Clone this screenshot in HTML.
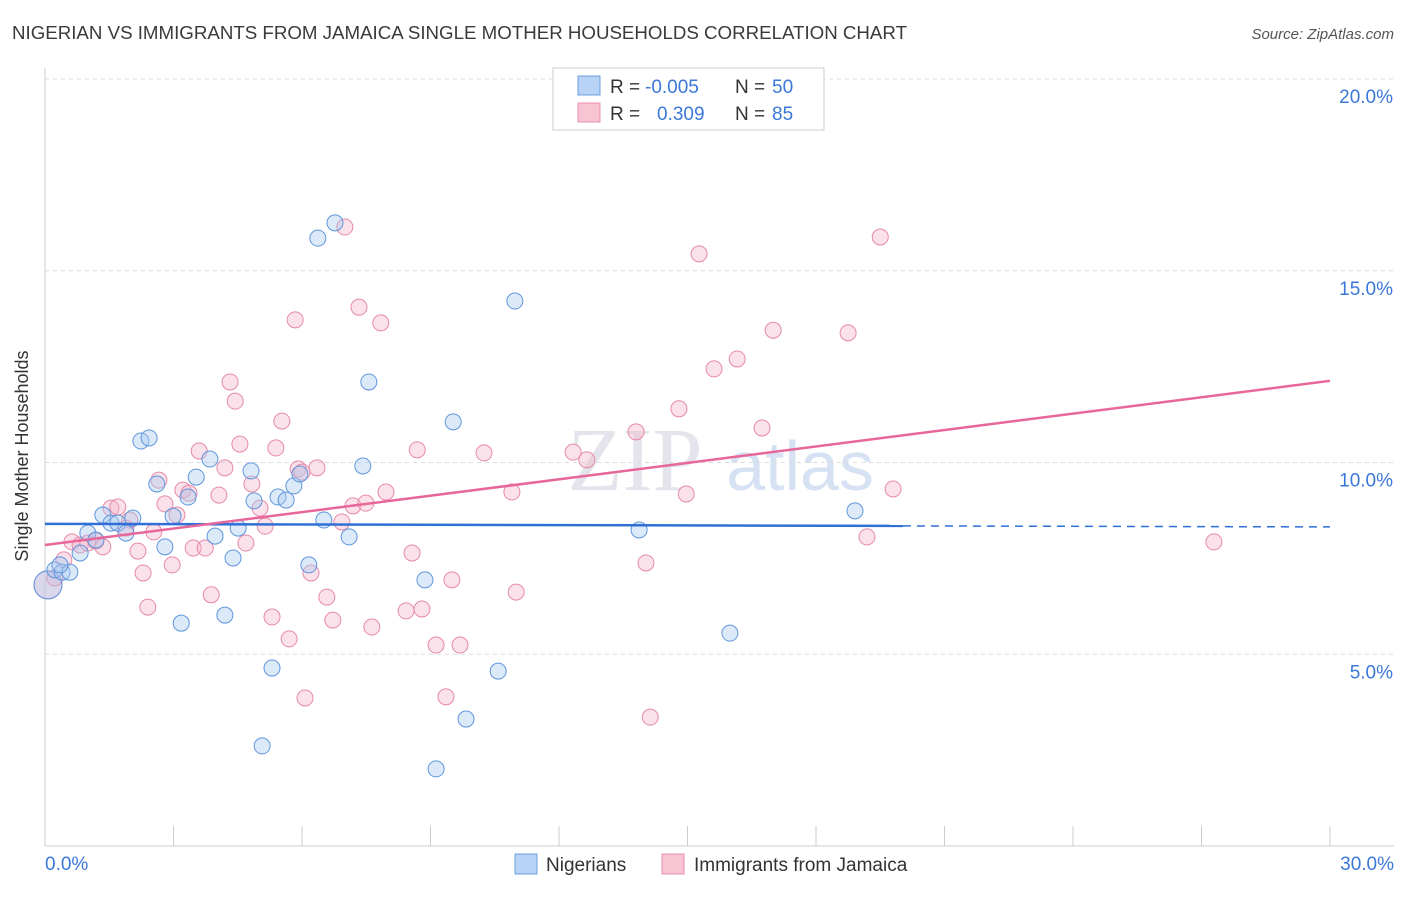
<!DOCTYPE html>
<html><head><meta charset="utf-8"><style>
body{margin:0;background:#fff;font-family:"Liberation Sans",sans-serif}
</style></head><body>
<svg width="1406" height="892" xmlns="http://www.w3.org/2000/svg">
<text x="12" y="39" font-size="18" textLength="895" lengthAdjust="spacingAndGlyphs" fill="#3a3a3a">NIGERIAN VS IMMIGRANTS FROM JAMAICA SINGLE MOTHER HOUSEHOLDS CORRELATION CHART</text>
<text x="1394" y="39" font-size="15" fill="#555" text-anchor="end" font-style="italic">Source: ZipAtlas.com</text>
<text x="28" y="456" font-size="18" fill="#333" text-anchor="middle" transform="rotate(-90 28 456)">Single Mother Households</text>
<text x="635" y="490" font-size="90" fill="#e4e4ec" font-family="Liberation Serif" text-anchor="middle">ZIP</text>
<text x="800" y="490" font-size="70" fill="#d6e2f3" text-anchor="middle">atlas</text>
<g id="grid"></g><g id="axes"></g><g id="pts"></g><g id="lines"></g>
<g>
<rect x="553" y="68" width="271" height="62" fill="#fff" stroke="#ccc"/>
<rect x="578" y="76" width="22" height="19" fill="#b8d3f5" stroke="#6a9fe0"/>
<rect x="578" y="103" width="22" height="19" fill="#f8c4d4" stroke="#e890aa"/>
<text y="93" font-size="19" fill="#333"><tspan x="610">R =</tspan><tspan x="645" fill="#3b78d8">-0.005</tspan><tspan x="735">N =</tspan><tspan x="772" fill="#3b78d8">50</tspan></text>
<text y="120" font-size="19" fill="#333"><tspan x="610">R =</tspan><tspan x="657" fill="#3b78d8">0.309</tspan><tspan x="735">N =</tspan><tspan x="772" fill="#3b78d8">85</tspan></text>
</g>
<g>
<rect x="515" y="854" width="22" height="20" fill="#b8d3f5" stroke="#6a9fe0"/>
<text x="546" y="871" font-size="19" fill="#333">Nigerians</text>
<rect x="662" y="854" width="22" height="20" fill="#f8c4d4" stroke="#e890aa"/>
<text x="694" y="871" font-size="19" fill="#333">Immigrants from Jamaica</text>
</g>
</svg>
<script>
const yTicks=[5,10,15,20];
const yTickLabels=["5.0%","10.0%","15.0%","20.0%"];
const xTicks=[0,3,6,9,12,15,18,21,24,27,30];
const blueX=[0.07,0.23,0.40,0.58,0.82,1.00,1.19,1.35,1.54,1.70,1.89,2.05,2.24,2.43,2.61,2.80,2.99,3.18,3.34,3.53,3.85,3.97,4.20,4.39,4.51,4.81,4.88,5.07,5.30,5.44,5.63,5.81,5.95,6.16,6.37,6.51,6.77,7.10,7.42,7.56,8.87,9.13,9.53,9.83,10.58,10.97,13.87,15.99,18.91,0.35];
const blueY=[6.81,7.20,7.14,7.14,7.64,8.16,7.98,8.63,8.42,8.42,8.16,8.55,10.56,10.64,9.44,7.80,8.60,5.81,9.10,9.62,10.09,8.08,6.02,7.51,8.29,9.78,9.00,2.61,4.64,9.10,9.02,9.39,9.70,7.33,15.85,8.50,16.25,8.06,9.91,12.10,6.94,2.01,11.06,3.31,4.56,14.21,8.24,5.55,8.74,7.33];
const pinkX=[0.07,0.23,0.44,0.63,0.82,1.00,1.19,1.35,1.54,1.70,1.89,1.98,2.17,2.29,2.40,2.54,2.66,2.80,2.97,3.08,3.22,3.36,3.46,3.60,3.74,3.88,4.06,4.20,4.32,4.44,4.55,4.69,4.83,5.02,5.14,5.30,5.39,5.53,5.70,5.84,5.91,6.00,6.07,6.21,6.35,6.58,6.72,6.93,7.00,7.19,7.33,7.49,7.63,7.84,7.96,8.43,8.57,8.69,8.80,9.13,9.36,9.50,9.69,10.25,10.90,11.00,12.33,12.65,13.80,14.03,14.13,14.80,14.97,15.27,15.62,16.16,16.74,17.00,18.75,19.19,19.50,19.80,27.29];
const pinkY=[6.81,6.99,7.46,7.93,7.85,7.90,7.95,7.80,8.81,8.84,8.29,8.50,7.69,7.12,6.23,8.19,9.54,8.92,7.33,8.63,9.28,9.20,7.77,10.30,7.77,6.55,9.15,9.86,12.10,11.60,10.48,7.90,9.44,8.81,8.34,5.97,10.38,11.08,5.40,13.72,9.83,9.75,3.86,7.12,9.86,6.49,5.89,8.45,16.14,8.87,14.05,8.94,5.71,13.64,9.23,6.13,7.64,10.33,6.18,5.24,3.89,6.94,5.24,10.25,9.23,6.62,10.27,10.07,10.80,7.38,3.36,11.40,9.18,15.44,12.44,12.70,10.90,13.45,13.38,8.06,15.88,9.31,7.93];
const blueTrend=[8.40,8.32];
const pinkTrend=[7.85,12.13];
const blueSolidEnd=20.03;
const NS="http://www.w3.org/2000/svg";
const X=v=>45+v*(1285/30), Y=v=>846-v*38.35;
function mk(t,a,p){const e=document.createElementNS(NS,t);for(const k in a)e.setAttribute(k,a[k]);p.appendChild(e);return e;}
const grid=document.getElementById('grid'),axes=document.getElementById('axes'),pts=document.getElementById('pts'),lines=document.getElementById('lines');
yTicks.forEach((t,i)=>{
 const l=mk('line',{x1:45,x2:1394,y1:Y(t),y2:Y(t),stroke:'#ddd','stroke-dasharray':'4,4'},grid);
 
 
 const tx=mk('text',{x:1393,y:Y(t)+24,'font-size':19,fill:'#3b78d8','text-anchor':'end'},axes);
 tx.textContent=yTickLabels[i];
 
 
});
const al=mk('line',{x1:45,x2:1394,y1:846,y2:846,stroke:'#ccc'},axes);


const yl=mk('line',{x1:45,x2:45,y1:68,y2:846,stroke:'#ccc'},axes);


xTicks.forEach(t=>{
 const l=mk('line',{x1:X(t),x2:X(t),y1:826,y2:846,stroke:'#ccc'},axes);
 
 
});
const x0=mk('text',{x:45,y:870,'font-size':19,fill:'#3b78d8'},axes);x0.textContent='0.0%';


const x1=mk('text',{x:1394,y:870,'font-size':19,fill:'#3b78d8','text-anchor':'end'},axes);x1.textContent='30.0%';


function dots(xs,ys,fill,stroke,name){
 xs.forEach((x,i)=>{
  const c=mk('circle',{cx:X(x),cy:Y(ys[i]),r:i===0?14:8,fill:fill,'fill-opacity':0.4,stroke:stroke,'stroke-width':1},pts);
  
  
 });
}
dots(pinkX,pinkY,'#f5b3c8','#e68aa8','point-jamaica');
dots(blueX,blueY,'#a8c8f0','#5f96dc','point-nigerians');
const bSlope=(blueTrend[1]-blueTrend[0])/30;
const b1=mk('line',{x1:X(0),y1:Y(blueTrend[0]),x2:X(blueSolidEnd),y2:Y(blueTrend[0]+bSlope*blueSolidEnd),stroke:'#2f6fd6','stroke-width':2.5},lines);


const b2=mk('line',{x1:X(blueSolidEnd),y1:Y(blueTrend[0]+bSlope*blueSolidEnd),x2:X(30),y2:Y(blueTrend[1]),stroke:'#2f6fd6','stroke-width':1.5,'stroke-dasharray':'8,6'},lines);


const p1=mk('line',{x1:X(0),y1:Y(pinkTrend[0]),x2:X(30),y2:Y(pinkTrend[1]),stroke:'#e8679a','stroke-width':2.5},lines);


</script>
</body></html>
